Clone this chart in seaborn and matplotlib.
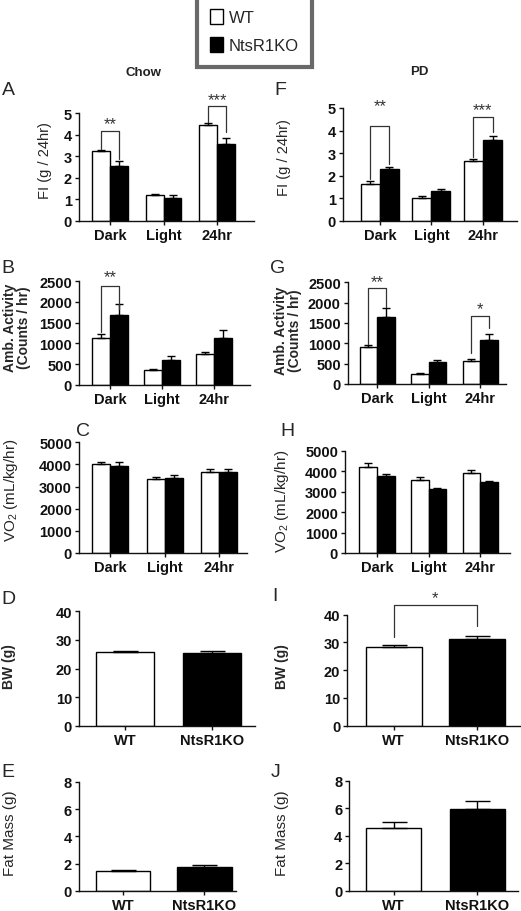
import matplotlib
matplotlib.use('Agg')
import matplotlib.pyplot as plt
import pandas as pd
import seaborn as sns
from matplotlib.patches import Patch

sns.set_style('ticks')
plt.rcParams['font.family'] = ['Liberation Sans', 'DejaVu Sans']
plt.rcParams['mathtext.fontset'] = 'custom'
plt.rcParams['mathtext.rm'] = 'Liberation Sans'
plt.rcParams['mathtext.it'] = 'Liberation Sans:italic'
plt.rcParams['mathtext.bf'] = 'Liberation Sans:bold'

# Data
periods = ['Dark', 'Light', '24hr']
genotypes = ['WT', 'NtsR1KO']
colors = {'WT': 'white', 'NtsR1KO': 'black'}

# food intake (g / 24hr)
chow_fi_wt = [3.22, 1.19, 4.45]
chow_fi_wt_err = [0.08, 0.03, 0.08]
chow_fi_ko = [2.55, 1.05, 3.58]
chow_fi_ko_err = [0.20, 0.12, 0.28]
pd_fi_wt = [1.65, 1.00, 2.63]
pd_fi_wt_err = [0.10, 0.10, 0.10]
pd_fi_ko = [2.28, 1.30, 3.57]
pd_fi_ko_err = [0.10, 0.10, 0.18]

# ambulatory activity (counts / hr)
chow_act_wt = [1130, 360, 740]
chow_act_wt_err = [90, 15, 55]
chow_act_ko = [1690, 600, 1140]
chow_act_ko_err = [260, 100, 180]
pd_act_wt = [900, 250, 570]
pd_act_wt_err = [70, 20, 35]
pd_act_ko = [1650, 540, 1090]
pd_act_ko_err = [230, 60, 150]

# VO2 (mL/kg/hr)
chow_vo2_wt = [4000, 3330, 3680]
chow_vo2_wt_err = [130, 100, 110]
chow_vo2_ko = [3950, 3390, 3660]
chow_vo2_ko_err = [150, 130, 130]
pd_vo2_wt = [4200, 3570, 3900]
pd_vo2_wt_err = [180, 150, 160]
pd_vo2_ko = [3760, 3140, 3450]
pd_vo2_ko_err = [100, 60, 80]

# body weight and fat mass (g), order WT, NtsR1KO
chow_bw = [25.9, 25.5]
chow_bw_err = [0.3, 0.6]
pd_bw = [28.3, 31.4]
pd_bw_err = [0.8, 0.9]
chow_fat = [1.50, 1.78]
chow_fat_err = [0.06, 0.12]
pd_fat = [4.60, 5.92]
pd_fat_err = [0.42, 0.63]

# significance brackets: (category, top, left leg end, right leg end, stars, star y)
chow_fi_sig = [(0, 4.18, 3.33, 2.86, '**', 4.52), (2, 5.31, 4.60, 4.10, '***', 5.60)]
pd_fi_sig = [(0, 4.20, 1.85, 2.51, '**', 5.10), (2, 4.59, 2.81, 3.92, '***', 4.95)]
chow_act_sig = [(0, 2380, 1266, 1830, '**', 2610)]
pd_act_sig = [(0, 2350, 990, 1886, '**', 2510), (2, 1680, 760, 1377, '*', 1860)]
pd_bw_sig = [(0, 43.5, 31.8, 36.0, '*', 46.3)]

W, H = 521, 912
fig = plt.figure(figsize=(W / 100, H / 100), dpi=100)


def new_axes(x0, x1, ytop, ybot):
    return fig.add_axes([x0 / W, 1 - ybot / H, (x1 - x0) / W, (ybot - ytop) / H])


def style(ax, ylim, step, xlim):
    ax.set_ylim(*ylim)
    ax.set_yticks(range(ylim[0], ylim[1] + 1, step))
    ax.set_xlim(*xlim)
    ax.set_xlabel('')
    ax.set_ylabel('')
    sns.despine(ax=ax)
    for s in ['left', 'bottom']:
        ax.spines[s].set_linewidth(1.0)
        ax.spines[s].set_color('#111')
    ax.tick_params(axis='both', direction='out', length=3, width=1, labelsize=10.5,
                   colors='#111', pad=2)
    for lab in ax.get_xticklabels() + ax.get_yticklabels():
        lab.set_fontweight('bold')


def bar_centers(ax):
    return [[b.get_x() + b.get_width() / 2 for b in cont] for cont in ax.containers]


def period_panel(ax, wt, wt_err, ko, ko_err, width):
    df = pd.DataFrame({'period': periods * 2,
                       'genotype': ['WT'] * 3 + ['NtsR1KO'] * 3,
                       'value': wt + ko})
    sns.barplot(data=df, x='period', y='value', hue='genotype', order=periods,
                hue_order=genotypes, palette=colors, width=width, gap=0,
                edgecolor='black', linewidth=1, errorbar=None, legend=False, ax=ax)
    cents = bar_centers(ax)
    for xs, vals, errs in zip(cents, [wt, ko], [wt_err, ko_err]):
        ax.errorbar(xs, vals, yerr=[[0] * len(vals), errs], fmt='none', ecolor='black',
                    elinewidth=1, capsize=3, capthick=1)
    return cents


def geno_panel(ax, vals, errs, width):
    df = pd.DataFrame({'genotype': genotypes, 'value': vals})
    sns.barplot(data=df, x='genotype', y='value', hue='genotype', order=genotypes,
                hue_order=genotypes, palette=colors, width=width,
                edgecolor='black', linewidth=1, errorbar=None, legend=False, ax=ax)
    xs = [c[0] for c in bar_centers(ax)]
    ax.errorbar(xs, vals, yerr=[[0] * len(vals), errs], fmt='none', ecolor='black',
                elinewidth=1, capsize=9, capthick=1)
    return xs


def brackets(ax, left_x, right_x, sigs):
    for cat, top, lb, rb, stars, ty in sigs:
        x1, x2 = left_x[cat], right_x[cat]
        ax.plot([x1, x1, x2, x2], [lb, top, top, rb], color='#333', lw=0.9,
                clip_on=False)
        ax.text((x1 + x2) / 2, ty, stars, ha='center', va='center', fontsize=12,
                color='#333', clip_on=False)


def ylab(x, y, text, size, weight='normal'):
    fig.text(x / W, 1 - y / H, text, rotation=90, ha='center', va='center',
             fontsize=size, fontweight=weight, linespacing=1.0)


def letter(x, y, text):
    fig.text(x / W, 1 - y / H, text, ha='center', va='center', fontsize=14)


# A: chow food intake
ax = new_axes(79, 254, 114, 221.7)
c = period_panel(ax, chow_fi_wt, chow_fi_wt_err, chow_fi_ko, chow_fi_ko_err, 0.67)
style(ax, (0, 5), 1, (-0.58, 2.69))
brackets(ax, c[0], c[1], chow_fi_sig)

# F: PD food intake
ax = new_axes(342.7, 517, 109, 221.7)
c = period_panel(ax, pd_fi_wt, pd_fi_wt_err, pd_fi_ko, pd_fi_ko_err, 0.74)
style(ax, (0, 5), 1, (-0.72, 2.66))
brackets(ax, c[0], c[1], pd_fi_sig)

# B: chow activity
ax = new_axes(79, 250, 282.3, 385.7)
c = period_panel(ax, chow_act_wt, chow_act_wt_err, chow_act_ko, chow_act_ko_err, 0.70)
style(ax, (0, 2500), 500, (-0.6, 2.69))
brackets(ax, c[0], c[1], chow_act_sig)

# G: PD activity
ax = new_axes(347.7, 506, 283.3, 385)
c = period_panel(ax, pd_act_wt, pd_act_wt_err, pd_act_ko, pd_act_ko_err, 0.68)
style(ax, (0, 2500), 500, (-0.57, 2.5))
brackets(ax, c[0], c[1], pd_act_sig)

# C: chow VO2
ax = new_axes(79, 247, 443.3, 554)
period_panel(ax, chow_vo2_wt, chow_vo2_wt_err, chow_vo2_ko, chow_vo2_ko_err, 0.66)
style(ax, (0, 5000), 1000, (-0.57, 2.51))

# H: PD VO2
ax = new_axes(345, 510, 451.7, 554)
period_panel(ax, pd_vo2_wt, pd_vo2_wt_err, pd_vo2_ko, pd_vo2_ko_err, 0.68)
style(ax, (0, 5000), 1000, (-0.62, 2.58))

# D: chow body weight
ax = new_axes(79, 255, 612.3, 726.7)
geno_panel(ax, chow_bw, chow_bw_err, 0.67)
style(ax, (0, 40), 10, (-0.53, 1.49))

# I: PD body weight
ax = new_axes(347.3, 520, 615.7, 726.7)
xs = geno_panel(ax, pd_bw, pd_bw_err, 0.675)
style(ax, (0, 40), 10, (-0.56, 1.52))
brackets(ax, [xs[0]], [xs[1]], pd_bw_sig)

# E: chow fat mass
ax = new_axes(79, 236, 782.7, 892)
geno_panel(ax, chow_fat, chow_fat_err, 0.67)
style(ax, (0, 8), 2, (-0.54, 1.39))

# J: PD fat mass
ax = new_axes(349.3, 518, 781.7, 892)
geno_panel(ax, pd_fat, pd_fat_err, 0.66)
style(ax, (0, 8), 2, (-0.53, 1.49))

# y-axis labels
ylab(45, 161, 'FI (g / 24hr)', 10.5)
ylab(284, 158, 'FI (g / 24hr)', 10.5)
ylab(17, 328, 'Amb. Activity\n(Counts / hr)', 10, 'bold')
ylab(288, 331, 'Amb. Activity\n(Counts / hr)', 10, 'bold')
ylab(11, 490, 'VO$_2$ (mL/kg/hr)', 11)
ylab(282, 501, 'VO$_2$ (mL/kg/hr)', 11)
ylab(9, 667, 'BW (g)', 10, 'bold')
ylab(282, 667, 'BW (g)', 10, 'bold')
ylab(10, 833, 'Fat Mass (g)', 11)
ylab(282, 833, 'Fat Mass (g)', 11)

# panel letters
for x, y, t in [(8, 91, 'A'), (280, 91, 'F'), (8, 269, 'B'), (278, 269, 'G'),
                (83, 432, 'C'), (287, 432, 'H'), (8, 600, 'D'), (275, 597, 'I'),
                (8, 773, 'E'), (276, 773, 'J')]:
    letter(x, y, t)

# column titles
fig.text(143 / W, 1 - 73 / H, 'Chow', ha='center', va='center', fontsize=9.5,
         fontweight='bold', color='#222')
fig.text(419 / W, 1 - 72 / H, 'PD', ha='center', va='center', fontsize=9.5,
         fontweight='bold', color='#222')

# legend
handles = [Patch(facecolor=colors[g], edgecolor='black', linewidth=1) for g in genotypes]
leg = fig.legend(handles, genotypes, loc='upper center', bbox_to_anchor=(254.5 / W, 1 + 3 / H),
                 fontsize=12, frameon=True, fancybox=False, edgecolor='#444',
                 handlelength=0.78, handleheight=1.0, handletextpad=0.3,
                 labelspacing=0.7, borderpad=0.8, borderaxespad=0)
leg.get_frame().set_linewidth(3)

fig.savefig('out.png', dpi=100)
